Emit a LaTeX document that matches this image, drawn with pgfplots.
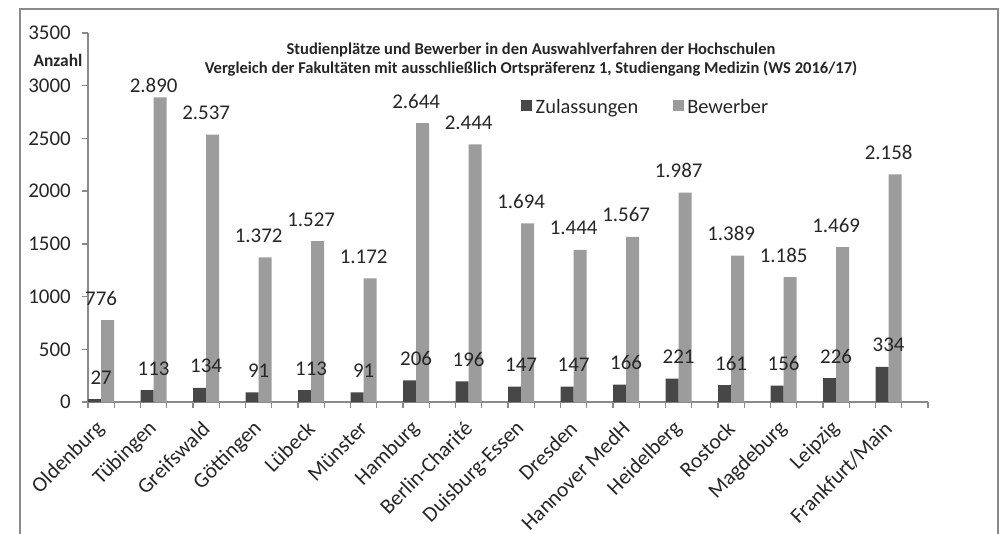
\documentclass[border=0pt]{standalone}
\usepackage{pgfplots}
\pgfplotsset{compat=1.18}
\usepackage{pgfplotstable}
\usepackage{fontspec}
\setmainfont{Carlito}
\definecolor{zul}{HTML}{474747}
\definecolor{bew}{HTML}{9C9C9C}
\definecolor{axc}{HTML}{8A8A8A}
\definecolor{txt}{HTML}{262626}

\pgfplotstableread{
x zul bew boff
0 27 776 15
1 113 2890 5
2 134 2537 15
3 91 1372 15
4 113 1527 15
5 91 1172 15
6 206 2644 15
7 196 2444 15
8 147 1694 15
9 147 1444 15
10 166 1567 15
11 221 1987 15
12 161 1389 15
13 156 1185 15
14 226 1469 15
15 334 2158 15
}\data

\begin{document}
\begin{tikzpicture}
\useasboundingbox (-88bp,-132bp) rectangle (919bp,402bp);
\draw[axc, line width=2bp] (-68bp,-140bp) -- (-68bp,392.5bp) -- (910bp,392.5bp) -- (910bp,-140bp);
\begin{axis}[
  at={(0,0)}, anchor=south west,
  scale only axis, width=840bp, height=369bp,
  xmin=-0.25, xmax=15.75, ymin=0, ymax=3500,
  axis x line*=bottom, axis y line*=left,
  axis line style={axc, line width=1.3bp},
  tick align=outside,
  major tick length=6bp, minor tick length=6bp,
  tick style={axc, line width=1.3bp},
  major x tick style={draw=none},
  xtick={0,...,15},
  minor xtick={-0.25,0.25,...,15.75},
  xticklabels={Oldenburg,Tübingen,Greifswald,Göttingen,Lübeck,Münster,Hamburg,Berlin-Charité,Duisburg-Essen,Dresden,Hannover MedH,Heidelberg,Rostock,Magdeburg,Leipzig,Frankfurt/Main},
  xticklabel style={xshift=0bp, yshift=-17bp, rotate=45, anchor=east, inner sep=0pt, font=\fontsize{21.5}{25}\selectfont, text=txt},
  ytick={0,500,...,3500},
  yticklabel style={xshift=-11bp, anchor=east, inner sep=0pt, font=\fontsize{21}{25}\selectfont, text=txt},
  /pgf/number format/assume math mode=true,
  /pgf/number format/1000 sep={},
  legend style={at={(rel axis cs:0.5155,0.80)}, anchor=west, draw=none, fill=none,
    inner sep=0pt, font=\fontsize{20.5}{24}\selectfont, text=txt,
    legend columns=2, nodes={inner xsep=3.5bp},
    /tikz/every even column/.append style={column sep=31bp}},
  legend image code/.code={\fill[#1] (0bp,-4bp) rectangle (11bp,7bp);},
  clip=false,
]
\addplot[ybar, bar width=13.1bp, bar shift=-6.55bp, fill=zul, draw=none,
  nodes near coords,
  every node near coord/.append style={anchor=base, inner sep=0pt, yshift=15bp,
    font=\fontsize{21}{25}\selectfont, text=txt}]
  table[x=x, y=zul]{\data};
\addlegendentry{Zulassungen}
\addplot[ybar, bar width=13.1bp, bar shift=6.55bp, fill=bew, draw=none,
  visualization depends on=\thisrow{boff}\as\boff,
  nodes near coords={\pgfmathprintnumber[1000 sep={.}]{\pgfplotspointmeta}},
  every node near coord/.append style={anchor=base, inner sep=0pt, yshift=\boff bp,
    font=\fontsize{21}{25}\selectfont, text=txt}]
  table[x=x, y=bew]{\data};
\addlegendentry{Bewerber}
\end{axis}
\node[font=\bfseries\fontsize{17.5}{20}\selectfont, text=txt] at (-30bp,342bp) {Anzahl};
\node[font=\bfseries\fontsize{16.6}{19}\selectfont, text=txt, align=center, inner sep=0pt] at (443bp,342.5bp)
  {Studienplätze und Bewerber in den Auswahlverfahren der Hochschulen\\
   Vergleich der Fakultäten mit ausschließlich Ortspräferenz 1, Studiengang Medizin (WS 2016/17)};
\end{tikzpicture}
\end{document}
